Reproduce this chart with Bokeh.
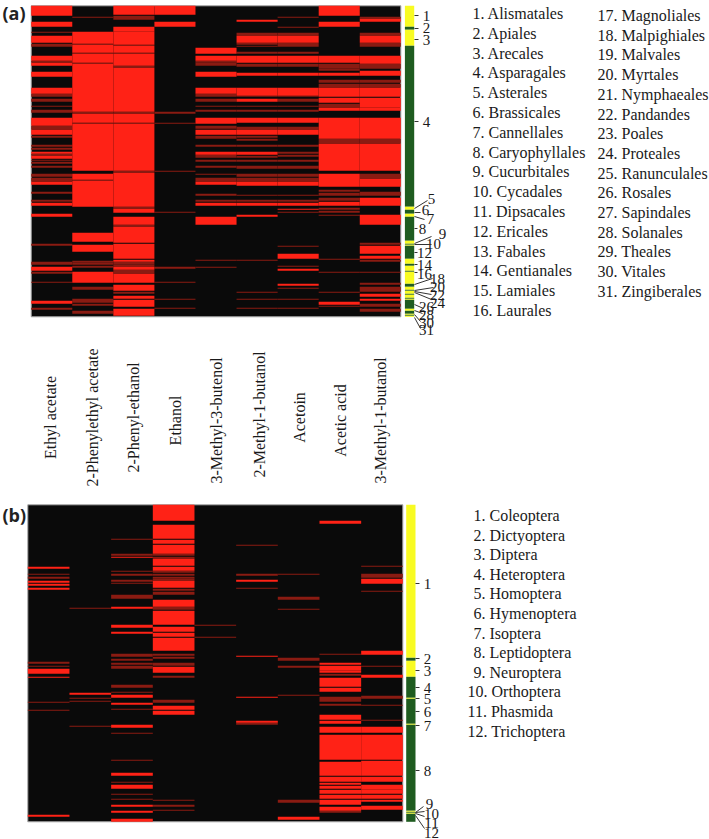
from bokeh.plotting import figure
from bokeh.models import Range1d
from bokeh.embed import file_html
from bokeh.resources import INLINE
from bokeh.core.properties import value

# Each series: (first row, last row, level) with level 2 = strong, 1 = weak; other rows absent.
COMPOUNDS = ["Ethyl acetate", "2-Phenylethyl acetate", "2-Phenyl-ethanol", "Ethanol", "3-Methyl-3-butenol",
             "2-Methyl-1-butanol", "Acetoin", "Acetic acid", "3-Methyl-1-butanol"]

a_ethyl_acetate = [(0,10,2),(16,21,2),(26,27,1),(30,37,2),(38,41,1),(50,55,2),(55,57,1),(57,60,2),(66,71,2),
    (82,88,2),(88,91,1),(93,96,1),(100,101,1),(104,107,1),(112,120,2),(120,124,1),(124,129,2),(130,132,1),
    (139,141,1),(142,144,1),(146,148,2),(148,150,1),(150,153,2),(154,155,1),(156,158,1),(160,162,1),(168,171,1),(172,176,1),(176,179,2),(186,188,1),
    (194,196,1),(197,200,2),(208,211,2),(238,240,1),(256,259,1),(261,265,2),(266,268,1),(276,277,1),(295,298,2),(302,304,1)]
a_phenylethyl_acetate = [(11,12,1),(26,38,2),(38,39,1),(39,47,2),(47,48,1),(48,57,2),(57,58,1),(58,106,2),(106,108,1),
    (108,117,2),(117,118,1),(118,165,2),(168,174,2),(174,175,1),(175,201,2),(227,236,2),(239,246,2),(255,257,1),
    (257,259,1),(260,262,1),(266,277,2),(281,284,1),(293,297,1),(298,300,1),(305,308,1)]
a_phenyl_ethanol = [(0,9,2),(10,14,1),(21,26,2),(26,39,2),(39,40,1),(40,47,2),(47,48,1),(48,60,2),(60,62,1),(62,106,2),
    (106,108,1),(108,117,2),(117,118,1),(118,165,2),(165,167,1),(167,201,2),(201,203,1),(203,207,2),(211,219,2),(219,221,1),
    (221,237,2),(238,253,2),(254,256,2),(256,259,1),(259,261,1),(261,264,2),(264,268,1),(268,277,2),(279,285,2),
    (286,288,1),(290,293,2),(294,301,2),(303,310,2)]
a_ethanol = [(0,9,2),(16,21,2),(106,108,1),(117,118,1),(165,166,1),(206,207,1),(261,263,1),(276,277,1),(293,294,1),(302,303,1)]
a_methyl_butenol = [(42,48,2),(50,55,2),(55,57,1),(57,60,1),(66,71,2),(82,88,2),(88,91,1),(93,96,1),(100,101,1),(104,106,1),
    (112,118,2),(120,123,1),(124,129,2),(130,133,1),(139,141,1),(146,149,2),(149,152,1),(154,156,1),(160,162,1),(168,169,1),
    (172,176,1),(176,179,2),(188,190,1),(194,196,1),(197,200,2),(211,219,2),(254,255,1),(261,262,1)]
a_methyl_butanol = [(14,16,2),(27,30,1),(30,37,2),(37,39,1),(40,41,1),(46,48,1),(50,57,2),(58,61,1),(67,70,2),(82,90,2),
    (90,91,1),(93,96,2),(100,101,1),(104,106,1),(112,117,2),(121,124,1),(124,129,2),(130,132,1),(133,135,1),(139,141,1),(146,149,2),
    (150,152,1),(154,156,1),(160,163,1),(168,171,1),(172,176,1),(176,180,2),(189,190,1),(194,196,1),(197,200,2),
    (209,211,2),(254,255,1),(286,287,1),(293,294,1),(302,303,1)]
a_acetoin = [(11,12,1),(21,22,1),(27,30,1),(30,37,2),(37,41,1),(46,48,1),(50,57,2),(58,61,1),(67,70,2),(82,90,2),(90,91,1),
    (93,96,1),(100,101,1),(104,106,1),(112,117,2),(121,124,1),(124,129,2),(139,141,1),(146,148,1),(149,151,1),(154,156,1),(160,163,1),
    (168,171,1),(172,176,1),(176,180,2),(189,190,1),(194,196,1),(197,200,2),(203,204,2),(206,207,1),(240,241,1),
    (248,253,2),(260,261,1),(263,265,2),(278,280,2),(282,283,1),(293,294,1),(302,303,1)]
a_acetic_acid = [(0,10,2),(16,21,2),(50,57,2),(58,63,1),(63,65,1),(67,70,2),(74,77,1),(78,82,1),(82,91,2),(92,97,2),(98,102,1),
    (102,105,2),(112,133,2),(133,138,1),(138,165,2),(168,181,2),(184,186,1),(187,190,1),(192,195,1),(196,200,2),
    (202,204,1),(205,207,1),(209,210,1),(253,254,1),(266,267,1),(286,287,1),(296,299,2),(300,301,1)]
a_methyl_butanol_3 = [(11,13,1),(13,16,2),(27,30,1),(30,37,2),(37,41,1),(50,58,2),(58,63,1),(65,70,2),(74,77,1),(78,82,1),(82,91,2),
    (92,102,2),(102,105,2),(112,133,2),(133,138,1),(138,165,2),(168,173,1),(173,181,2),(186,190,1),(192,200,2),(209,219,2),
    (237,239,1),(240,248,2),(250,253,2),(254,256,1),(266,267,1),(277,279,1),(281,286,1),(288,291,2),(293,295,2),
    (298,301,1),(303,306,1)]

b_ethyl_acetate = [(62,64,2),(69,70,1),(72,74,1),(76,78,2),(79,81,2),(83,85,2),(157,159,1),(161,162,1),(164,169,2),
    (172,173,2),(197,198,1),(205,206,1),(310,312,2)]
b_phenylethyl_acetate = [(103,104,1),(188,190,2),(193,194,1),(196,197,1),(221,222,1)]
b_phenyl_ethanol = [(34,35,1),(49,51,1),(52,53,2),(66,67,1),(69,71,1),(75,77,1),(78,79,1),(90,94,1),(102,104,2),(120,123,2),
    (127,129,2),(149,152,1),(154,156,1),(158,160,1),(161,164,1),(180,183,1),(187,188,1),(190,193,2),(198,200,2),(204,205,1),
    (220,223,2),(228,229,1),(255,256,1),(268,271,2),(277,278,1),(280,284,2),(289,290,1),(294,295,1),(300,302,2),(306,308,2),(314,317,2)]
b_ethanol = [(0,16,2),(20,34,2),(35,39,2),(40,49,2),(49,51,1),(52,54,1),(54,61,2),(62,66,2),(66,68,1),(69,71,1),(72,74,1),(74,76,1),(76,83,2),(84,86,1),(87,90,1),
    (95,102,2),(102,105,1),(106,120,2),(122,127,2),(128,132,2),(133,146,2),(149,151,1),(152,154,1),(158,161,1),(162,168,2),(171,173,1),
    (195,198,1),(201,205,2),(206,210,2),(295,296,1),(300,302,1),(305,306,1)]
b_methyl_butenol = [(120,121,1),(132,133,1)]
b_methyl_butanol = [(40,41,1),(69,71,1),(75,77,2),(83,84,1),(151,152,2),(192,193,2),(216,218,2),(218,220,1)]
b_acetoin = [(69,70,1),(92,95,1),(104,105,1),(153,156,1),(161,163,1),(190,191,1),(295,298,1),(312,315,2)]
b_acetic_acid = [(16,19,2),(149,150,1),(158,160,2),(161,166,2),(166,168,2),(169,171,1),(173,182,2),(183,187,2),(192,197,1),
    (199,201,1),(210,215,2),(216,219,2),(222,228,2),(230,255,2),(257,271,2),(272,277,2),(278,280,2),(281,284,2),(285,289,2),
    (290,294,2),(295,300,2),(302,306,2),(306,308,1)]
b_methyl_butanol_3 = [(61,62,1),(69,73,1),(74,79,2),(86,87,1),(146,150,2),(161,162,1),(170,173,2),(191,194,1),(200,201,1),
    (215,216,1),(222,228,2),(230,255,2),(256,271,2),(272,277,2),(280,285,2),(285,289,2),(290,294,2),(295,297,2),(301,305,2)]

a_series = [a_ethyl_acetate, a_phenylethyl_acetate, a_phenyl_ethanol, a_ethanol, a_methyl_butenol,
            a_methyl_butanol, a_acetoin, a_acetic_acid, a_methyl_butanol_3]
b_series = [b_ethyl_acetate, b_phenylethyl_acetate, b_phenyl_ethanol, b_ethanol, b_methyl_butenol,
            b_methyl_butanol, b_acetoin, b_acetic_acid, b_methyl_butanol_3]

plant_orders = ["Alismatales","Apiales","Arecales","Asparagales","Asterales","Brassicales","Cannellales","Caryophyllales",
    "Cucurbitales","Cycadales","Dipsacales","Ericales","Fabales","Gentianales","Lamiales","Laurales","Magnoliales",
    "Malpighiales","Malvales","Myrtales","Nymphaeales","Pandandes","Poales","Proteales","Ranunculales","Rosales",
    "Sapindales","Solanales","Theales","Vitales","Zingiberales"]
plant_counts = [21,3,16,161,3,4,3,24,3,1,1,13,5,2,5,1,12,3,3,1,3,1,3,1,1,9,2,3,1,1,1]
insect_orders = ["Coleoptera","Dictyoptera","Diptera","Heteroptera","Homoptera","Hymenoptera","Isoptera","Leptidoptera",
    "Neuroptera","Orthoptera","Phasmida","Trichoptera"]
insect_counts = [153,3,16,21,1,25,1,86,1,1,1,8]

W, H = 709, 839
SERIF = value("Liberation Serif")
STRONG, WEAK, BLACK = "#ff2216", "#8a1b12", "#0a0a0a"
YELLOW, GREEN = "#f8fb22", "#1f5c20"

p = figure(width=W, height=H, output_backend="svg", toolbar_location=None,
           x_range=Range1d(0, W), y_range=Range1d(H, 0), min_border=0,
           outline_line_color=None, background_fill_color="white")
p.axis.visible = False
p.grid.visible = False
p.extra_x_ranges = {
    "ax": Range1d(-30.7 / 41.07, (W - 30.7) / 41.07),
    "bx": Range1d(-27.3 / 41.67, (W - 27.3) / 41.67),
}
p.extra_y_ranges = {
    "ay": Range1d(H - 5.3, -5.3),
    "by": Range1d(H - 504.3, -504.3),
}


def panel(series, n_rows, xr, yr, strip_left, strip_right, counts):
    p.quad(left=[0], right=[len(series)], top=[0], bottom=[n_rows], fill_color=BLACK,
           line_color="#a8a8a8", line_width=1, x_range_name=xr, y_range_name=yr)
    for lvl, col in ((1, WEAK), (2, STRONG)):
        L, R, T, B = [], [], [], []
        for i, runs in enumerate(series):
            for s, e, v in runs:
                if v == lvl:
                    L.append(i); R.append(i + 1); T.append(s); B.append(e)
        p.quad(left=L, right=R, top=T, bottom=B, fill_color=col, line_color=None,
               x_range_name=xr, y_range_name=yr)
    T, B, C = [], [], []
    r = 0
    for i, c in enumerate(counts):
        T.append(r); B.append(r + c); C.append(YELLOW if i % 2 == 0 else GREEN)
        r += c
    p.quad(left=[strip_left] * len(T), right=[strip_right] * len(T), top=T, bottom=B, fill_color=C,
           line_color=None, y_range_name=yr)


panel(a_series, 311, "ax", "ay", 404.4, 413.7, plant_counts)
panel(b_series, 317, "bx", "by", 405.7, 415, insect_counts)


def texts(xs, ys, labels, size="15px", align="center", angle=0, font=SERIF, style="normal", color="#1a1a1a"):
    p.text(x=xs, y=ys, text=labels, text_font=font, text_font_size=size, text_align=align,
           text_baseline="middle", angle=angle, text_font_style=style, text_color=color)


# panel letters
texts([2], [12], ["(a)"], size="18px", align="left", font=value("Open Sans"), style="bold", color="#222222")
texts([2], [514], ["(b)"], size="18px", align="left", font=value("Open Sans"), style="bold", color="#222222")

# legends
texts([472] * 16, [13 + 19.8 * i for i in range(16)], [f"{i+1}. {n}" for i, n in enumerate(plant_orders[:16])],
      size="16px", align="left")
texts([597] * 15, [15 + 19.7 * i for i in range(15)], [f"{i+17}. {n}" for i, n in enumerate(plant_orders[16:])],
      size="16px", align="left")
texts([473 if i < 9 else 467 for i in range(12)], [515 + 19.6 * i for i in range(12)],
      [f"{i+1}. {n}" for i, n in enumerate(insect_orders)], size="16px", align="left")

# compound names, read upward and centred on their own point
comp_x = [50, 92, 133, 175, 216, 259, 299, 340, 380]
comp_y = [417, 417, 417, 420, 420, 414, 417, 420, 420]
texts(comp_x, comp_y, COMPOUNDS, size="16px", align="center", angle=1.5708)

# strip numbers, panel a
a_num = ["1","2","3","4","5","6","7","8","9","10","12","14","16","18","20","22","24","26","28","30","31"]
a_nx = [426,426,426,426,431,425,430,422,442,433,424,424,424,437,437,437,437,426,426,426,426]
a_ny = [15,27,39,121,198,209,218,228,233,243,252,264,273,278,286,294,302,306,314,322,329]
texts(a_nx, a_ny, a_num)
a_x0 = [414] * 21
a_x1 = [418,418,418,418,427,420,424,417,431,431,417,417,417,432,433,431,431,423,422,420,420]
a_y0 = [15,28,39,121,208,212,216,228,243,244,252,264,272,284,290,291,292,304,310,314,317]
a_y1 = [15,28,39,121,200,212,219,228,236,244,252,264,272,278,287,294,299,308,313,321,328]
p.segment(a_x0, a_y0, a_x1, a_y1, line_color="#333333", line_width=1)

# strip numbers, panel b
b_num = [str(i) for i in range(1, 13)]
b_nx = [427,427,427,427,427,427,427,427,429,431,431,431]
b_ny = [583,658,670,687,698,711,725,770,803,813,822,832]
texts(b_nx, b_ny, b_num)
b_x0 = [415] * 12
b_x1 = [419,419,419,419,419,419,419,419,423,424,424,424]
b_y0 = [583,658,670,687,698,711,725,770,812,812,813,815]
b_y1 = [583,658,670,687,698,711,725,770,806,811,816,828]
p.segment(b_x0, b_y0, b_x1, b_y1, line_color="#333333", line_width=1)

open("out.html", "w").write(file_html(p, INLINE))
